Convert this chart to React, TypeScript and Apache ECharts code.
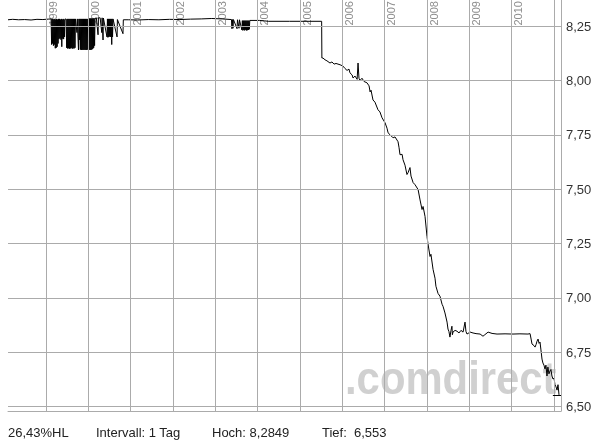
import React, { useEffect, useRef } from 'react';
import * as echarts from 'echarts';

// ---- data (date, price) ----
const flat1998: [string, number][] = [
  ['1998-02-07', 8.279], ['1998-03-20', 8.281], ['1998-05-10', 8.279], ['1998-07-01', 8.28],
  ['1998-08-25', 8.278], ['1998-10-15', 8.281], ['1998-12-05', 8.28], ['1999-01-20', 8.282],
  ['1999-02-14', 8.283],
];

const noisy1999: [string, number][] = [
  ['1999-02-18', 8.165], ['1999-02-22', 8.283], ['1999-02-26', 8.17], ['1999-03-02', 8.283],
  ['1999-03-06', 8.16], ['1999-03-10', 8.28], ['1999-03-14', 8.165], ['1999-03-18', 8.283],
  ['1999-03-22', 8.148], ['1999-03-26', 8.28], ['1999-03-30', 8.15], ['1999-04-03', 8.283],
  ['1999-04-07', 8.155], ['1999-04-11', 8.28], ['1999-04-15', 8.17], ['1999-04-19', 8.283],
  ['1999-04-23', 8.19], ['1999-04-27', 8.283], ['1999-05-01', 8.195], ['1999-05-05', 8.28],
  ['1999-05-09', 8.188], ['1999-05-13', 8.283], ['1999-05-17', 8.155], ['1999-05-21', 8.28],
  ['1999-05-25', 8.192], ['1999-05-29', 8.283], ['1999-06-02', 8.19], ['1999-06-06', 8.28],
  ['1999-06-10', 8.2], ['1999-06-14', 8.283], ['1999-06-24', 8.281], ['1999-06-28', 8.15],
  ['1999-07-02', 8.283], ['1999-07-06', 8.147], ['1999-07-10', 8.283], ['1999-07-14', 8.148],
  ['1999-07-18', 8.283], ['1999-07-22', 8.146], ['1999-07-26', 8.283], ['1999-07-30', 8.147],
  ['1999-08-03', 8.283], ['1999-08-07', 8.15], ['1999-08-11', 8.283], ['1999-08-15', 8.146],
  ['1999-08-19', 8.283], ['1999-08-23', 8.148], ['1999-08-27', 8.283], ['1999-08-31', 8.147],
  ['1999-09-04', 8.283], ['1999-09-08', 8.15], ['1999-09-12', 8.283], ['1999-09-25', 8.22],
  ['1999-09-28', 8.283], ['1999-10-08', 8.14], ['1999-10-12', 8.283], ['1999-10-16', 8.186],
  ['1999-10-20', 8.283], ['1999-10-24', 8.142], ['1999-10-28', 8.283], ['1999-11-01', 8.14],
  ['1999-11-05', 8.283], ['1999-11-09', 8.141], ['1999-11-13', 8.283], ['1999-11-17', 8.14],
  ['1999-11-21', 8.283], ['1999-11-25', 8.142], ['1999-11-29', 8.283], ['1999-12-03', 8.14],
  ['1999-12-07', 8.283], ['1999-12-11', 8.141], ['1999-12-15', 8.283], ['1999-12-19', 8.14],
  ['1999-12-23', 8.283], ['1999-12-28', 8.142],
];

const noisy2000: [string, number][] = [
  ['2000-01-03', 8.285], ['2000-01-07', 8.14], ['2000-01-11', 8.285], ['2000-01-15', 8.141],
  ['2000-01-19', 8.285], ['2000-01-23', 8.14], ['2000-01-27', 8.285], ['2000-01-31', 8.142],
  ['2000-02-04', 8.285], ['2000-02-08', 8.145], ['2000-02-12', 8.285], ['2000-02-16', 8.15],
  ['2000-02-20', 8.285], ['2000-02-24', 8.16], ['2000-02-28', 8.285], ['2000-03-10', 8.288],
  ['2000-03-25', 8.21], ['2000-03-28', 8.288], ['2000-04-12', 8.288], ['2000-04-26', 8.22],
  ['2000-04-29', 8.288], ['2000-05-07', 8.186], ['2000-05-10', 8.287], ['2000-06-10', 8.2],
  ['2000-06-14', 8.283], ['2000-06-18', 8.198], ['2000-06-22', 8.283], ['2000-06-26', 8.2],
  ['2000-06-30', 8.283], ['2000-07-04', 8.202], ['2000-07-08', 8.283], ['2000-07-12', 8.2],
  ['2000-07-16', 8.283], ['2000-07-21', 8.165], ['2000-07-24', 8.283], ['2000-07-28', 8.2],
  ['2000-08-01', 8.283], ['2000-09-05', 8.2], ['2000-09-08', 8.28], ['2000-10-26', 8.215],
  ['2000-10-29', 8.279],
];

const flat2001: [string, number][] = [
  ['2000-12-15', 8.279], ['2001-03-01', 8.278], ['2001-06-01', 8.28], ['2001-09-01', 8.279],
  ['2001-12-01', 8.281], ['2002-03-01', 8.28], ['2002-06-01', 8.282], ['2002-09-01', 8.283],
  ['2002-12-01', 8.2849], ['2003-03-01', 8.283], ['2003-05-20', 8.28], ['2003-05-24', 8.238],
  ['2003-05-28', 8.28], ['2003-06-02', 8.24], ['2003-06-06', 8.28], ['2003-07-07', 8.238],
  ['2003-07-11', 8.279], ['2003-07-24', 8.24], ['2003-07-28', 8.279], ['2003-08-18', 8.232],
  ['2003-08-22', 8.275], ['2003-08-26', 8.23], ['2003-08-30', 8.275], ['2003-09-03', 8.232],
  ['2003-09-07', 8.275], ['2003-09-11', 8.23], ['2003-09-15', 8.275], ['2003-09-19', 8.233],
  ['2003-09-23', 8.275], ['2003-09-27', 8.23], ['2003-10-01', 8.275], ['2003-10-05', 8.231],
  ['2003-10-09', 8.275], ['2003-10-13', 8.232], ['2003-10-17', 8.275], ['2003-10-21', 8.235],
  ['2003-10-25', 8.276], ['2004-01-15', 8.276], ['2004-03-01', 8.274], ['2004-04-01', 8.272],
  ['2004-10-01', 8.272], ['2005-03-01', 8.272], ['2005-07-06', 8.272],
];

const decline: [string, number][] = [
  ['2005-07-08', 8.103], ['2005-07-17', 8.103], ['2005-08-04', 8.095], ['2005-08-21', 8.09],
  ['2005-09-16', 8.08], ['2005-10-03', 8.085], ['2005-10-21', 8.075], ['2005-11-07', 8.078],
  ['2005-12-12', 8.072], ['2006-01-06', 8.066], ['2006-01-23', 8.055], ['2006-02-10', 8.046],
  ['2006-02-27', 8.052], ['2006-03-07', 8.035], ['2006-03-26', 8.025], ['2006-04-03', 8.011],
  ['2006-04-20', 8.02], ['2006-05-08', 8.005], ['2006-05-16', 8.08], ['2006-05-24', 8.01],
  ['2006-06-02', 8.0], ['2006-06-19', 8.01], ['2006-07-07', 7.995], ['2006-08-01', 7.989],
  ['2006-08-19', 7.975], ['2006-08-28', 7.947], ['2006-09-05', 7.955], ['2006-09-22', 7.91],
  ['2006-10-09', 7.9], ['2006-11-04', 7.865], ['2006-11-21', 7.855], ['2006-12-09', 7.828],
  ['2007-01-04', 7.805], ['2007-01-21', 7.78], ['2007-01-30', 7.759], ['2007-02-16', 7.75],
  ['2007-03-14', 7.736], ['2007-03-31', 7.74], ['2007-04-26', 7.718], ['2007-05-05', 7.69],
  ['2007-05-13', 7.658], ['2007-05-31', 7.66], ['2007-06-08', 7.635], ['2007-06-25', 7.61],
  ['2007-07-12', 7.567], ['2007-07-21', 7.575], ['2007-08-07', 7.599], ['2007-08-16', 7.56],
  ['2007-09-03', 7.53], ['2007-09-20', 7.52], ['2007-10-16', 7.498], ['2007-11-02', 7.45],
  ['2007-11-19', 7.406], ['2007-11-28', 7.42], ['2007-12-15', 7.374], ['2008-01-01', 7.282],
  ['2008-01-09', 7.25], ['2008-01-27', 7.19], ['2008-02-04', 7.2], ['2008-02-22', 7.131],
  ['2008-03-10', 7.09], ['2008-03-18', 7.053], ['2008-04-05', 7.02], ['2008-04-22', 7.007],
  ['2008-05-10', 6.97], ['2008-05-18', 6.961], ['2008-06-04', 6.93], ['2008-06-22', 6.888],
  ['2008-06-30', 6.856], ['2008-07-08', 6.845], ['2008-07-17', 6.819],
];

const plateau: [string, number][] = [
  ['2008-07-26', 6.85], ['2008-08-03', 6.869], ['2008-08-07', 6.83], ['2008-08-12', 6.842],
  ['2008-08-30', 6.85], ['2008-09-16', 6.846], ['2008-10-03', 6.838], ['2008-10-20', 6.85],
  ['2008-11-07', 6.842], ['2008-11-24', 6.888], ['2008-12-02', 6.845], ['2008-12-11', 6.833],
  ['2009-01-07', 6.842], ['2009-02-01', 6.838], ['2009-02-27', 6.835], ['2009-04-03', 6.833],
  ['2009-04-28', 6.823], ['2009-05-14', 6.83], ['2009-06-11', 6.842], ['2009-07-15', 6.836],
  ['2009-08-27', 6.833], ['2009-11-04', 6.834], ['2010-01-12', 6.833], ['2010-03-13', 6.834],
  ['2010-05-21', 6.833], ['2010-06-08', 6.835],
];

const tail: [string, number][] = [
  ['2010-06-17', 6.81], ['2010-06-25', 6.787], ['2010-07-12', 6.78], ['2010-07-21', 6.773],
  ['2010-07-30', 6.785], ['2010-08-07', 6.8], ['2010-08-16', 6.81], ['2010-08-25', 6.79],
  ['2010-09-02', 6.796], ['2010-09-10', 6.76], ['2010-09-19', 6.718], ['2010-09-27', 6.7],
  ['2010-10-06', 6.69], ['2010-10-15', 6.672], ['2010-10-23', 6.69], ['2010-11-01', 6.64],
  ['2010-11-09', 6.681], ['2010-11-18', 6.65], ['2010-11-27', 6.663], ['2010-12-05', 6.67],
  ['2010-12-14', 6.64], ['2010-12-23', 6.626], ['2011-01-01', 6.63], ['2011-01-09', 6.6],
  ['2011-01-18', 6.59], ['2011-01-27', 6.575], ['2011-02-04', 6.6], ['2011-02-08', 6.58],
  ['2011-02-13', 6.553],
];

const yTicks = [6.5, 6.75, 7.0, 7.25, 7.5, 7.75, 8.0, 8.25];
const yearLines = ['1999', '2000', '2001', '2002', '2003', '2004', '2005', '2006', '2007', '2008', '2009', '2010', '2011'];
const yearLabels = ['1999', '2000', '2001', '2002', '2003', '2004', '2005', '2006', '2007', '2008', '2009', '2010'];
const xMin = '1998-02-07';
const xMax = '2011-03-02';
const yMin = 6.479;
const yMax = 8.37;
const lowValue = 6.553;
const lowStart = '2010-12-22';
const footer = ['26,43%HL', 'Intervall: 1 Tag', 'Hoch: 8,2849', 'Tief:  6,553'];
const footerX = [8, 96, 212, 322];

const t = (s: string) => new Date(s + 'T00:00:00').getTime();

export default function App() {
  const ref = useRef<HTMLDivElement>(null);
  useEffect(() => {
    const chart = echarts.init(ref.current!, null, { renderer: 'svg' });
    const font = '"Liberation Sans", Arial, Helvetica, sans-serif';
    const gridColor = '#ababab';
    const allData = [...flat1998, ...noisy1999, ...noisy2000, ...flat2001, ...decline, ...plateau, ...tail].map(
      ([d, v]) => [t(d), v]
    );
    chart.setOption({
      animation: false,
      grid: { left: 8, right: 41, top: 0, bottom: 33 },
      xAxis: {
        type: 'time',
        min: t(xMin),
        max: t(xMax),
        axisLine: { show: true, lineStyle: { color: gridColor, width: 1 } },
        axisTick: { show: false },
        axisLabel: { show: false },
        splitLine: { show: false },
      },
      yAxis: {
        type: 'value',
        position: 'right',
        min: yMin,
        max: yMax,
        axisLine: { show: true, lineStyle: { color: gridColor, width: 1 } },
        axisTick: { show: false },
        axisLabel: { show: false },
        splitLine: { show: false },
      },
      series: [
        {
          type: 'line',
          data: [],
          z: 1,
          silent: true,
          markLine: {
            silent: true,
            animation: false,
            symbol: ['none', 'none'],
            lineStyle: { color: gridColor, width: 1, type: 'solid' },
            label: { show: false },
            emphasis: { disabled: true },
            data: [
              ...yTicks.map((v) => ({
                yAxis: v,
                label: {
                  show: true,
                  position: 'end',
                  distance: 5,
                  formatter: v.toFixed(2).replace('.', ','),
                  color: '#333',
                  fontSize: 13,
                  fontFamily: font,
                },
              })),
              ...yearLines.map((y) => ({ xAxis: t(y + '-01-01') })),
            ],
          },
        },
        {
          type: 'line',
          data: allData,
          z: 3,
          showSymbol: false,
          symbol: 'none',
          silent: true,
          lineStyle: { color: '#000', width: 1 },
          markLine: {
            silent: true,
            animation: false,
            symbol: ['none', 'none'],
            label: { show: false },
            emphasis: { disabled: true },
            lineStyle: { color: '#000', width: 1, type: 'solid' },
            data: [[{ coord: [t(lowStart), lowValue] }, { coord: [t(xMax), lowValue] }]],
          },
        },
      ],
    });

    const graphics: any[] = [];
    yearLabels.forEach((y) => {
      const px = chart.convertToPixel({ xAxisIndex: 0 }, t(y + '-01-01')) as number;
      graphics.push({
        type: 'text',
        x: px + 1,
        y: 25.5,
        rotation: Math.PI / 2,
        z: 1,
        silent: true,
        style: { text: y, fill: '#8e8e8e', fontSize: 11, fontFamily: font, align: 'left', verticalAlign: 'top' },
      });
    });
    graphics.push({
      type: 'text',
      x: 345,
      y: 354,
      scaleX: 0.89,
      z: 0,
      silent: true,
      style: {
        text: '.comdirect',
        fill: '#d0d0d0',
        fontSize: 47,
        fontWeight: 'bold',
        fontFamily: font,
        align: 'left',
        verticalAlign: 'top',
      },
    });
    footer.forEach((s, i) => {
      graphics.push({
        type: 'text',
        left: footerX[i],
        top: 426,
        silent: true,
        style: { text: s, fill: '#222', fontSize: 13, fontFamily: font },
      });
    });
    chart.setOption({ graphic: graphics });

    return () => chart.dispose();
  }, []);
  return <div ref={ref} style={{ position: 'fixed', left: 0, top: 0, width: 602, height: 444 }} />;
}
